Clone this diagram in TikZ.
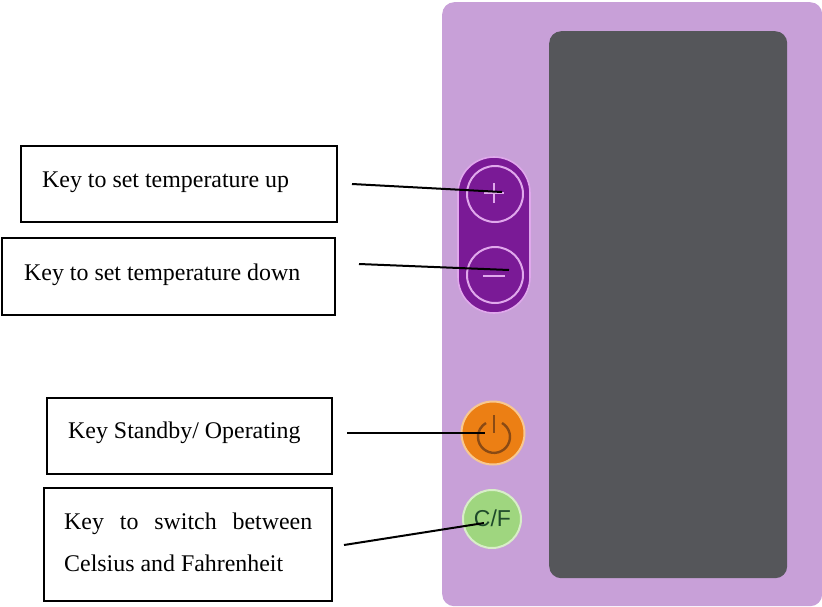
\documentclass[tikz,border=0pt]{standalone}
\usepackage{fontspec}
\setmainfont{Liberation Serif}
\setsansfont{Liberation Sans}
\usetikzlibrary{calc}
\definecolor{panelLila}{HTML}{C8A0D8}
\definecolor{displayGrau}{HTML}{55565A}
\definecolor{tastenLila}{HTML}{7A1A96}
\definecolor{ringLila}{HTML}{E0A8EC}
\definecolor{orangeKey}{HTML}{EC7F14}
\definecolor{orangeRand}{HTML}{F8C890}
\definecolor{orangeDunkel}{HTML}{8A4A14}
\definecolor{gruenKey}{HTML}{9FD67F}
\definecolor{gruenRand}{HTML}{D8EEC8}
\definecolor{gruenDunkel}{HTML}{1E4A2A}
\tikzstyle{keybox} = [rectangle,draw=black,line width=1.6pt,anchor=north west,inner sep=0pt,outer sep=0pt]
\tikzstyle{keytext} = [anchor=west,inner sep=0pt,font=\fontsize{23.9}{28}\selectfont]
\tikzstyle{roundkey} = [circle,inner sep=0pt,line width=2pt]
\tikzstyle{edge} = [line width=2pt,draw=black]

\begin{document}
\begin{tikzpicture}[x=1pt,y=-1pt]
\useasboundingbox (0,0) rectangle (822,606);

\node[rectangle,rounded corners=12pt,fill=panelLila,anchor=north west,inner sep=0pt,minimum width=380pt,minimum height=604pt] (panel) at (442,2) {};
\node[rectangle,rounded corners=12pt,fill=displayGrau,anchor=north west,inner sep=0pt,minimum width=238pt,minimum height=547pt] (display) at (549,31) {};

\node[rectangle,rounded corners=36pt,fill=tastenLila,draw=ringLila,line width=1.6pt,anchor=north west,inner sep=0pt,outer sep=0pt,minimum width=72pt,minimum height=156pt] (pill) at (458,157) {};
\node[roundkey,draw=ringLila,minimum size=56pt] (plus) at (495,194) {};
\node[roundkey,draw=ringLila,minimum size=56pt] (minus) at (495,275) {};
\draw[ringLila,line width=2.4pt] (484,193) -- (504,193);
\draw[ringLila,line width=2.4pt] (494,183) -- (494,203);
\draw[ringLila,line width=2.4pt] (483,276) -- (505,276);

\node[roundkey,fill=orangeKey,draw=orangeRand,minimum size=63pt] (power) at (493,433) {};
\draw[orangeDunkel,line width=2.4pt] (494,415) -- (494,433);
\draw[orangeDunkel,line width=2.4pt] (502,423) arc[start angle=60,end angle=-240,radius=16pt];

\node[roundkey,fill=gruenKey,draw=gruenRand,minimum size=58pt] (cf) at (492,519) {};
\node[text=gruenDunkel,inner sep=0pt,font=\sffamily\fontsize{23}{26}\selectfont] (cftext) at (492.5,518) {C/F};

% boxes
\node[keybox,minimum width=316pt,minimum height=76pt] (upbox) at (21,146) {};
\node[keytext] (uptext) at (42,182) {Key to set temperature up};

\node[keybox,minimum width=333pt,minimum height=77pt] (downbox) at (2,238) {};
\node[keytext] (downtext) at (24,275) {Key to set temperature down};

\node[keybox,minimum width=285pt,minimum height=76pt] (standbybox) at (47,398) {};
\node[keytext] (standbytext) at (68,433) {Key Standby/ Operating};

\node[keybox,minimum width=288pt,minimum height=113pt] (switchbox) at (44,488) {};
\node[keytext,text width=248pt,align=justify,font=\fontsize{23.9}{42}\selectfont] (switchtext) at (64,542) {Key to switch between Celsius and Fahrenheit};

% connectors
\coordinate (upS) at (352,184);
\coordinate (upE) at (502,192);
\coordinate (downS) at (359,264);
\coordinate (downE) at (509,270);
\coordinate (standbyS) at (347,433);
\coordinate (standbyE) at (485,433);
\coordinate (switchS) at (344,545);
\coordinate (switchE) at (484,523);
\draw[edge] (upS) -- (upE);
\draw[edge] (downS) -- (downE);
\draw[edge] (standbyS) -- (standbyE);
\draw[edge] (switchS) -- (switchE);
\end{tikzpicture}
\end{document}
